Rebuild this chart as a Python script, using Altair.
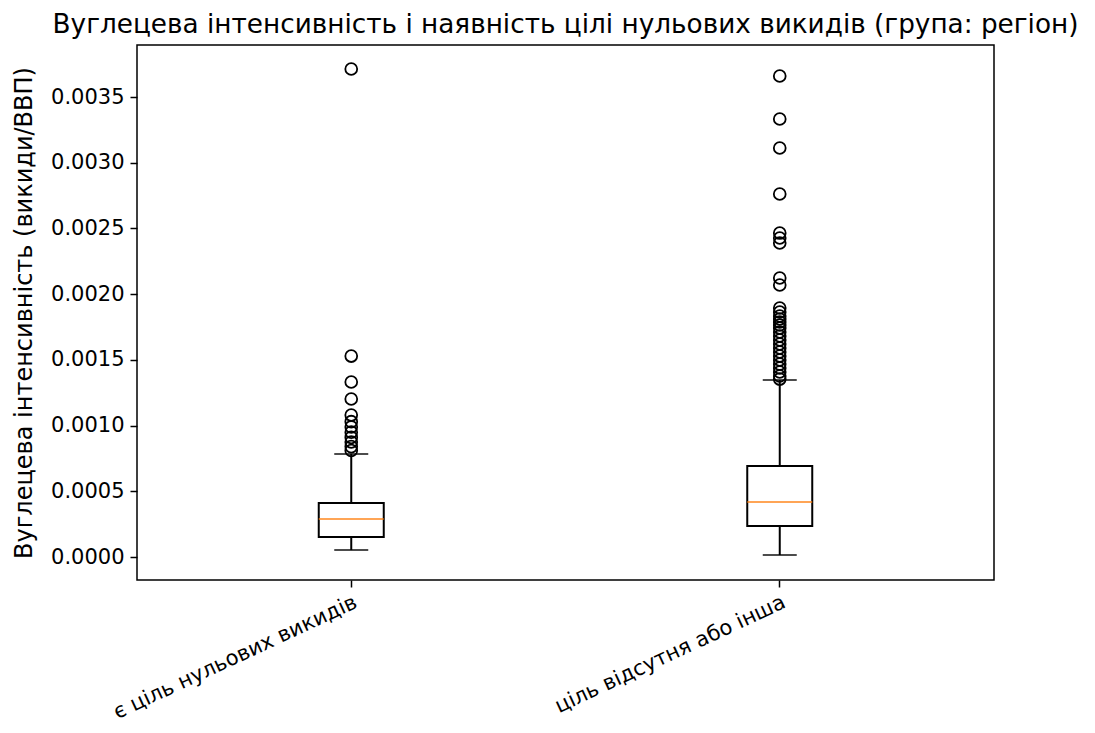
import altair as alt
import pandas as pd

categories = ["є ціль нульових викидів", "ціль відсутня або інша"]
whisker_lo = [0.000053, 0.000015]
q1 = [0.000152, 0.000236]
median = [0.000289, 0.000418]
q3 = [0.000411, 0.000692]
whisker_hi = [0.000784, 0.001347]

outliers_g1 = [0.003713, 0.001529, 0.001332, 0.001202, 0.001080, 0.001030,
               0.000990, 0.000950, 0.000910, 0.000875, 0.000840, 0.000810]
outliers_g2 = [0.003660, 0.003333, 0.003112, 0.002762, 0.002465, 0.002427,
               0.002389, 0.002123, 0.002070, 0.001895, 0.001864, 0.001834,
               0.001811, 0.001788, 0.001765, 0.001742, 0.001712, 0.001682,
               0.001651, 0.001621, 0.001590, 0.001560, 0.001529, 0.001499,
               0.001468, 0.001438, 0.001408, 0.001377, 0.001354]

title = "Вуглецева інтенсивність і наявність цілі нульових викидів (група: регіон)"
y_title = "Вуглецева інтенсивність (викиди/ВВП)"

box_df = pd.DataFrame({"cat": categories, "lo": whisker_lo, "q1": q1,
                       "med": median, "q3": q3, "hi": whisker_hi})
out_df = pd.DataFrame({
    "cat": [categories[0]] * len(outliers_g1) + [categories[1]] * len(outliers_g2),
    "v": outliers_g1 + outliers_g2,
})

FONT = "DejaVu Sans"
LW = 2

xenc = alt.X("cat:N", sort=categories,
             scale=alt.Scale(domain=categories, paddingInner=0, paddingOuter=0),
             axis=alt.Axis(title=None, labelAngle=-25, labelAlign="right",
                           labelBaseline="top", labelFontSize=21, labelPadding=4,
                           labelLimit=500))
yscale = alt.Scale(domain=[-0.000175, 0.003896], nice=False, zero=False)
yaxis = alt.Axis(title=y_title, values=[0, 0.0005, 0.001, 0.0015, 0.002, 0.0025, 0.003, 0.0035],
                 format=".4f", labelFontSize=21, titleFontSize=24, titleFontWeight="normal",
                 titlePadding=14, labelPadding=6)

base = alt.Chart(box_df)

whisk_lo = base.mark_rule(color="black", strokeWidth=LW).encode(
    x=xenc, y=alt.Y("lo:Q", scale=yscale, axis=yaxis), y2="q1:Q")
whisk_hi = base.mark_rule(color="black", strokeWidth=LW).encode(
    x=xenc, y=alt.Y("q3:Q", scale=yscale, axis=yaxis), y2="hi:Q")
box = base.mark_bar(size=65, fill="white", stroke="black", strokeWidth=LW).encode(
    x=xenc, y=alt.Y("q1:Q", scale=yscale, axis=yaxis), y2="q3:Q")
cap_lo = base.mark_tick(size=34, thickness=LW, color="black").encode(
    x=xenc, y=alt.Y("lo:Q", scale=yscale, axis=yaxis))
cap_hi = base.mark_tick(size=34, thickness=LW, color="black").encode(
    x=xenc, y=alt.Y("hi:Q", scale=yscale, axis=yaxis))
med = base.mark_tick(size=65, thickness=LW, color="#ff7f0e").encode(
    x=xenc, y=alt.Y("med:Q", scale=yscale, axis=yaxis))
pts = alt.Chart(out_df).mark_point(shape="circle", filled=False, size=140,
                                   color="black", strokeWidth=1.8, opacity=1).encode(
    x=xenc, y=alt.Y("v:Q", scale=yscale, axis=yaxis))

chart = alt.layer(whisk_lo, whisk_hi, box, cap_lo, cap_hi, med, pts).properties(
    width=857, height=535,
    title=alt.Title(title, fontSize=26.3, fontWeight="normal", font=FONT,
                    anchor="middle", offset=7, color="black"),
    autosize=alt.AutoSizeParams(type="none"),
    padding={"left": 129, "top": 37, "right": 93, "bottom": 143},
).configure(background="white").configure_view(
    stroke="black", strokeWidth=1.5
).configure_axis(
    grid=False, domain=False, tickColor="black", tickSize=7, tickWidth=1.5,
    labelColor="black", titleColor="black", labelFont=FONT, titleFont=FONT,
)

chart.save("out.html", embed_options={"renderer": "svg", "actions": False})
